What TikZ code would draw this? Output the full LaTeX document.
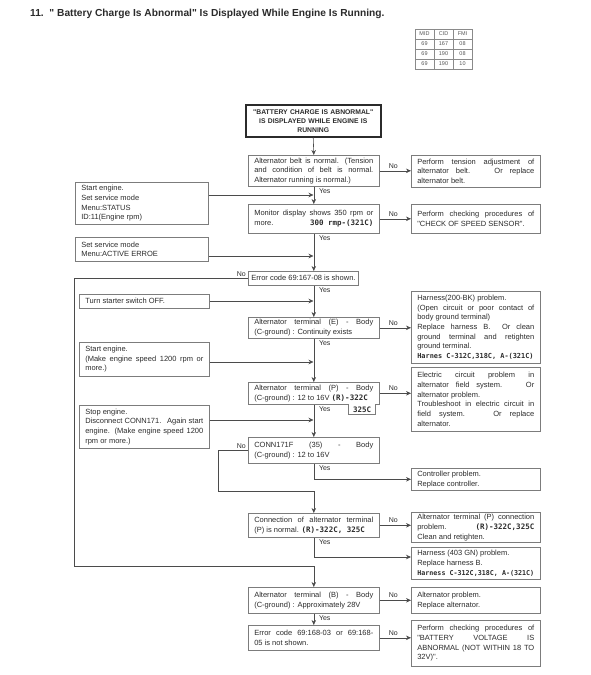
\documentclass[tikz,border=0pt]{standalone}
\usepackage{fontspec}
\setmainfont{Liberation Sans}[Ligatures=TeXOff]
\newfontfamily\handfont{DejaVu Sans Mono}
\usetikzlibrary{positioning,calc,arrows.meta}
\definecolor{ink}{HTML}{2B2B2B}
\colorlet{frame}{ink!62}
\newcommand\boxtext{\fontsize{7.5}{9.7}\selectfont}
\newcommand\handnote{\handfont\bfseries\fontsize{7.5}{9.7}\selectfont}
\tikzset{
  % --- nodes
  box/.style     = {draw=frame, line width=0.6pt, align=justify, anchor=north west,
                    inner xsep=6pt, inner ysep=2pt, text=ink, font=\boxtext},
  mainbox/.style = {box, text width=119pt},
  rbox/.style    = {box, text width=117pt},
  lbox/.style    = {box, text width=118pt},
  startbox/.style= {box, draw=ink, line width=1.5pt, align=center, inner xsep=2pt,
                    text width=131pt, font=\bfseries\fontsize{6.8}{9}\selectfont},
  lbl/.style     = {font=\fontsize{7}{8}\selectfont, text=ink, inner sep=1pt},
  cell/.style    = {font=\fontsize{5.5}{6}\selectfont, text=ink!80, inner sep=0pt},
  % --- edges
  e/.style       = {-{Stealth[length=5pt,width=4.5pt]}, line width=0.6pt, draw=ink!85},
  ln/.style      = {line width=0.6pt, draw=frame},
  tabline/.style = {draw=ink!55, line width=0.4pt},
}
\begin{document}
\begin{tikzpicture}[x=1pt,y=-1pt]
  \useasboundingbox (0,0) rectangle (591,675);
  % title and code table
  \node[anchor=west, inner sep=0pt, text=ink, font=\bfseries\fontsize{10.2}{12}\selectfont] (title) at (30,14)
    {11.\ \ " Battery Charge Is Abnormal" Is Displayed While Engine Is Running.};
  \foreach \r/\ca/\cb/\cc in {0/MID/CID/FMI, 1/69/167/08, 2/69/190/08, 3/69/190/10} {
    \node[cell] (t\r a) at (424.5,{34+10*\r}) {\ca};
    \node[cell] (t\r b) at (443.5,{34+10*\r}) {\cb};
    \node[cell] (t\r c) at (462.5,{34+10*\r}) {\cc};
  }
  \draw[tabline] (415,29) rectangle (472,69);
  \foreach \y in {39,49,59} \draw[tabline] (415,\y) -- (472,\y);
  \foreach \x in {434,453} \draw[tabline] (\x,29) -- (\x,69);

  % main column
  \node[startbox, minimum height=32pt] (start) at (245,104)
    {"BATTERY CHARGE IS ABNORMAL"\\ IS DISPLAYED WHILE ENGINE IS\\ RUNNING};
  \node[mainbox, minimum height=31pt] (box1) at (248,155)
    {Alternator belt is normal. (Tension\linebreak and condition of belt is normal.\linebreak Alternator running is normal.)};
  \node[mainbox, minimum height=29pt] (box2) at (248,204)
    {Monitor display shows 350 rpm or\linebreak more.\hfill{\handnote 300 rmp-(321C)}};
  \node[box, align=left, inner xsep=3pt, minimum width=110pt, minimum height=14pt] (box3) at (248,271)
    {Error code 69:167-08 is shown.};
  \node[mainbox, minimum height=21pt] (box4) at (248,317)
    {Alternator terminal (E) - Body\linebreak (C-ground) : Continuity exists};
  \node[mainbox, draw=none, minimum height=22pt] (box5) at (248,382)
    {Alternator terminal (P) - Body\linebreak (C-ground) : 12 to 16V {\handnote (R)-322C}};
  \draw[ln] (box5.south west) -- (box5.north west) -- (box5.north east) -- (box5.south east)
    -- ($(box5.south east)+(-4,0)$) -- ++(0,10) -- ++(-27,0) -- ++(0,-10) -- cycle;
  \node[inner sep=0pt, text=ink, font=\handnote] (tab325) at ($(box5.south east)+(-17.5,5)$) {325C};
  \node[mainbox, minimum height=26pt] (box6) at (248,437)
    {CONN171F (35) - Body\linebreak (C-ground) : 12 to 16V};
  \node[mainbox, minimum height=24pt] (box7) at (248,513)
    {Connection of alternator terminal\linebreak (P) is normal. {\handnote (R)-322C, 325C}};
  \node[mainbox, minimum height=26pt] (box8) at (248,587)
    {Alternator terminal (B) - Body\linebreak (C-ground) : Approximately 28V};
  \node[mainbox, minimum height=25pt] (box9) at (248,625)
    {Error code 69:168-03 or 69:168-\linebreak 05 is not shown.};

  % results on the right
  \node[rbox, minimum height=32pt] (R1) at (411,155)
    {Perform tension adjustment of\linebreak alternator belt. \ Or replace\linebreak alternator belt.};
  \node[rbox, minimum height=29pt] (R2) at (411,204)
    {Perform checking procedures of\linebreak "CHECK OF SPEED SENSOR".};
  \node[rbox, minimum height=72pt] (R3) at (411,291)
    {Harness(200-BK) problem.\\ (Open circuit or poor contact of\linebreak body ground terminal)\\
     Replace harness B. \ Or clean\linebreak ground terminal and retighten\linebreak ground terminal.\\
     {\handnote\fontsize{6.9}{9.7}\selectfont Harnes C-312C,318C, A-(321C)}};
  \node[rbox, minimum height=64pt] (R4) at (411,367)
    {Electric circuit problem in\linebreak alternator field system. \ Or\linebreak alternator problem.\\
     Troubleshoot in electric circuit in\linebreak field system. \ Or replace\linebreak alternator.};
  \node[rbox, minimum height=22pt] (R5) at (411,468)
    {Controller problem.\\ Replace controller.};
  \node[rbox, minimum height=26pt] (R6) at (411,512)
    {Alternator terminal (P) connection\linebreak problem.\hfill{\handnote (R)-322C,325C}\\ Clean and retighten.};
  \node[rbox, minimum height=32pt] (R7) at (411,547)
    {Harness (403 GN) problem.\\ Replace harness B.\\
     {\handnote\fontsize{6.7}{9.7}\selectfont Harness C-312C,318C, A-(321C)}};
  \node[rbox, minimum height=26pt] (R8) at (411,587)
    {Alternator problem.\\ Replace alternator.};
  \node[rbox, minimum height=46pt] (R9) at (411,620)
    {Perform checking procedures of\linebreak "BATTERY VOLTAGE IS\linebreak ABNORMAL (NOT WITHIN 18 TO\linebreak 32V)".};

  % operations on the left
  \node[box, text width=121pt, minimum height=42pt] (L1) at (75,182)
    {Start engine.\\ Set service mode\\ Menu:STATUS\\ ID:11(Engine rpm)};
  \node[box, text width=121pt, minimum height=24pt] (L2) at (75,237)
    {Set service mode\\ Menu:ACTIVE ERROE};
  \node[lbox, minimum height=14pt] (L3) at (79,294) {Turn starter switch OFF.};
  \node[lbox, minimum height=34pt] (L4) at (79,342)
    {Start engine.\\ (Make engine speed 1200 rpm or\linebreak more.)};
  \node[lbox, minimum height=43pt] (L5) at (79,405)
    {Stop engine.\\ Disconnect CONN171. \ Again start\linebreak engine. (Make engine speed 1200\linebreak rpm or more.)};

  % joints on the main line
  \coordinate (j1) at (313.5,195);
  \coordinate (j2) at (313.5,256);
  \coordinate (j3) at (313.5,301);
  \coordinate (j4) at (313.5,362);
  \coordinate (j5) at (313.5,420);
  \coordinate (nobot) at (218,491);
  \coordinate (loopbot) at (74,566);
  \coordinate (r7in) at (R7.west |- 0,557);

  % flow downwards
  \foreach \a/\bx in {start/box1, box1/box2, box4/box5, box5/box6, box8/box9}
    \draw[e] (\a.south) -- (\bx.north);
  \draw[e] (box2.south) -- (box2.south |- box3.north);
  \draw[e] (box2.south |- box3.south) -- (box4.north);
  \draw[e] (box6.south) |- (R5.west);
  \draw[e] (box7.south) |- (r7in);
  \draw[e] (box6.west) -| (nobot) -| (box7.north);
  \draw[e] (box3.west) -| (loopbot) -| (box8.north);
  \foreach \bx in {box1,box2,box3,box4,box5,box6,box7,box8}
    \node[lbl, anchor=north west] (yes-\bx) at ($(box1.south |- \bx.south)+(4,1)$) {Yes};

  % no branches
  \foreach \bx/\rx in {box1/R1, box2/R2, box4/R3, box5/R4, box7/R6, box8/R8, box9/R9} {
    \draw[e] (\bx.east) -- (\bx.east -| \rx.west);
    \node[lbl, anchor=south west] (no-\bx) at ($(\bx.east)+(8,-1.5)$) {No};
  }
  \foreach \bx in {box3,box6}
    \node[lbl, anchor=south east] (no-\bx) at ($(\bx.west)+(-1,-1)$) {No};

  % side operations
  \foreach \lx/\jx in {L1/j1, L2/j2, L3/j3, L4/j4, L5/j5}
    \draw[e] (\lx.east |- \jx) -- (\jx);
\end{tikzpicture}
\end{document}
